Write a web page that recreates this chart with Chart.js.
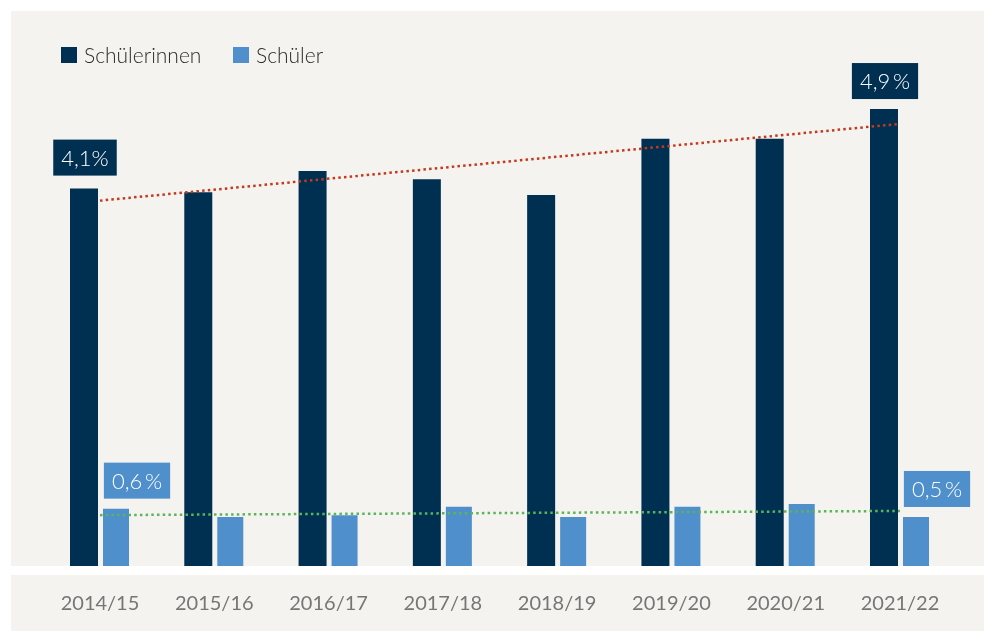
<!DOCTYPE html>
<html><head><meta charset="utf-8">
<script src="https://cdn.jsdelivr.net/npm/chart.js@4/dist/chart.umd.min.js"></script>
<style>html,body{margin:0;padding:0;background:#fff;}#wrap{width:984px;height:631px;position:relative}</style>
</head><body><div id="wrap"><canvas id="c" width="984" height="631" style="width:984px;height:631px"></canvas></div>
<script>
const categories = ['2014/15','2015/16','2016/17','2017/18','2018/19','2019/20','2020/21','2021/22'];
const seriesNames = ['Schülerinnen','Schüler'];
const schuelerinnen = [4.08,4.04,4.27,4.18,4.01,4.62,4.62,4.94];
const schueler = [0.62,0.53,0.55,0.64,0.53,0.64,0.67,0.53];
const trendSchuelerinnen = [3.95,null,null,null,null,null,null,4.78];
const trendSchueler = [0.55,null,null,null,null,null,null,0.595];
const valueLabels = [
  {series:0,index:0,text:'4,1%'},
  {series:0,index:7,text:'4,9\u2009%'},
  {series:1,index:0,text:'0,6\u2009%'},
  {series:1,index:7,text:'0,5\u2009%'}
];
const NAVY='#003051', BLUE='#4f8fcb', PANEL='#f4f3f0';

const bgPlugin = {
  id:'bg',
  beforeDraw(chart){
    const ctx=chart.ctx; ctx.save();
    ctx.fillStyle='#ffffff'; ctx.fillRect(0,0,chart.width,chart.height);
    ctx.fillStyle=PANEL;
    ctx.fillRect(11,11,chart.width-11,555);
    ctx.fillRect(11,575,chart.width-11,chart.height-575);
    ctx.restore();
  }
};
const legendPlugin = {
  id:'legendCustom',
  afterDraw(chart){
    const ctx=chart.ctx; ctx.save();
    const pos=[61,233];
    ctx.font='300 21px Lato';
    ctx.textBaseline='middle';
    [0,1].forEach(i=>{
      const ds=chart.data.datasets[i];
      ctx.fillStyle=ds.backgroundColor;
      ctx.fillRect(pos[i],47,16,16);
      ctx.fillStyle='#2b2b2b';
      ctx.fillText(ds.label,pos[i]+23,56);
    });
    ctx.restore();
  }
};
const labelPlugin = {
  id:'valueLabels',
  afterDatasetsDraw(chart){
    const ctx=chart.ctx; ctx.save();
    ctx.font='300 22px Lato';
    ctx.textBaseline='middle'; ctx.textAlign='center';
    valueLabels.forEach(l=>{
      const el=chart.getDatasetMeta(l.series).data[l.index];
      const ds=chart.data.datasets[l.series];
      const w=ctx.measureText(l.text).width+16;
      const h=36;
      const cx=el.x+(l.series===1?21:1);
      const bottom=el.y-(l.series===0&&l.index===0?13:10);
      ctx.fillStyle=ds.backgroundColor;
      ctx.fillRect(cx-w/2,bottom-h,w,h);
      ctx.fillStyle='#ffffff';
      ctx.fillText(l.text,cx,bottom-h/2+1);
    });
    ctx.restore();
  }
};

new Chart(document.getElementById('c'),{
  type:'bar',
  data:{
    labels:categories,
    datasets:[
      {label:seriesNames[0],data:schuelerinnen,backgroundColor:NAVY,barPercentage:0.875,categoryPercentage:0.56,order:2},
      {label:seriesNames[1],data:schueler,backgroundColor:BLUE,barPercentage:0.8125,categoryPercentage:0.56,order:2},
      {type:'line',label:'Trend Schülerinnen',data:trendSchuelerinnen,spanGaps:true,borderColor:'#c4391c',borderWidth:2.5,borderDash:[2.5,3.2],pointRadius:0,fill:false,order:0},
      {type:'line',label:'Trend Schüler',data:trendSchueler,spanGaps:true,borderColor:'#5cb45a',borderWidth:2.5,borderDash:[2.5,3.2],pointRadius:0,fill:false,order:0}
    ]
  },
  options:{
    responsive:false,
    animation:false,
    devicePixelRatio:1,
    layout:{padding:{left:42.86,right:26.86,top:11,bottom:0}},
    plugins:{legend:{display:false},tooltip:{enabled:false}},
    scales:{
      y:{display:false,min:0,max:6},
      x:{
        afterFit(scale){ scale.height=65; },
        grid:{display:false,drawTicks:false},
        border:{display:false},
        ticks:{color:'#767676',font:{family:'Lato',size:20,weight:'400'},padding:26,maxRotation:0}
      }
    }
  },
  plugins:[bgPlugin,legendPlugin,labelPlugin]
});
</script>
</body></html>
